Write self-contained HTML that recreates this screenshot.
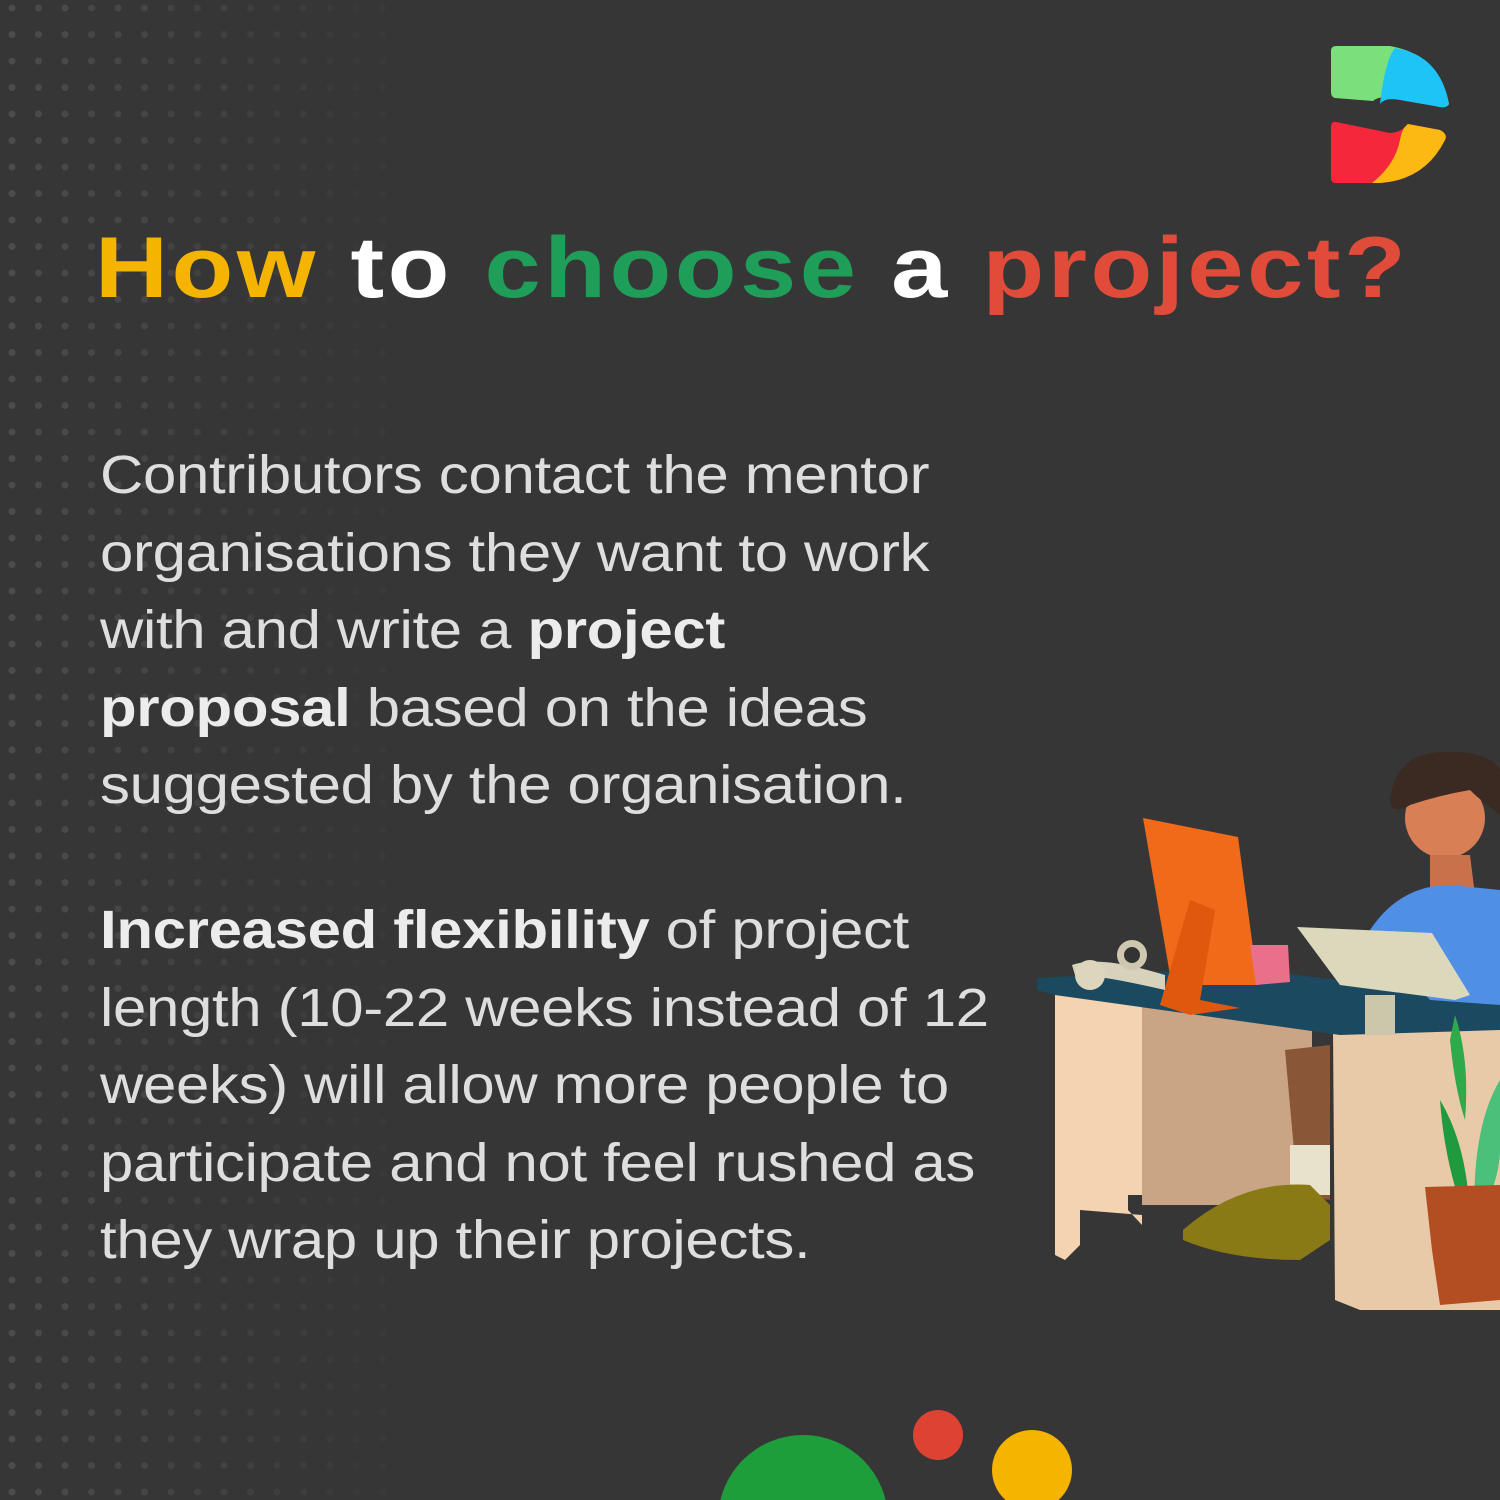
<!DOCTYPE html>
<html><head><meta charset="utf-8"><style>
html,body{margin:0;padding:0;width:1500px;height:1500px;overflow:hidden}
body{background:#363636;position:relative;font-family:"Liberation Sans",sans-serif}
#dots{position:absolute;left:0;top:0}
.title{position:absolute;left:95px;top:218px;font-size:86px;font-weight:bold;letter-spacing:3px;white-space:nowrap;transform:scaleX(1.175);transform-origin:left top;line-height:100px}
.body{position:absolute;left:100px;color:#dedede;font-size:54px;line-height:77.5px;white-space:nowrap;letter-spacing:-0.3px;transform:scaleX(1.11);transform-origin:left top}
.body b{color:#ececec}
</style></head><body>
<svg id="dots" width="1500" height="1500"></svg>
<div class="title"><span style="color:#f4b400">How</span> <span style="color:#fff">to</span> <span style="color:#1e9e58">choose</span> <span style="color:#fff">a</span> <span style="color:#e04b3a">project?</span></div>
<div class="body" style="top:437px">Contributors contact the mentor<br>organisations they want to work<br>with and write a <b>project</b><br><b>proposal</b> based on the ideas<br>suggested by the organisation.</div>
<div class="body" style="top:892px"><b>Increased flexibility</b> of project<br>length (10-22 weeks instead of 12<br>weeks) will allow more people to<br>participate and not feel rushed as<br>they wrap up their projects.</div>
<svg width="1500" height="1500" style="position:absolute;left:0;top:0">
<g>
<path d="M1336,46 L1390,46 Q1440,55 1449,104 Q1447,108 1440,107 L1394,98 Q1380,95 1373,101 L1335,98 Q1331,97 1331,92 L1331,51 Q1331,46 1336,46Z" fill="#7be07b"/>
<path d="M1395,48 Q1440,55 1449,104 Q1447,108 1440,107 L1400,100 Q1385,97 1380,104 Q1385,60 1395,48Z" fill="#1dc4f5"/>
<path d="M1336,122 L1390,133 Q1400,133 1408,124 L1440,130 Q1448,134 1445,140 Q1425,180 1380,183 L1336,183 Q1331,183 1331,178 L1331,127 Q1331,121 1336,122Z" fill="#f4283a"/>
<path d="M1408,124 L1440,130 Q1448,134 1445,140 Q1425,180 1380,183 L1372,183 Q1395,165 1400,140 Q1402,128 1408,124Z" fill="#fdb913"/>
</g>
<g>
<circle cx="803" cy="1520" r="85" fill="#1e9e3a"/>
<circle cx="938" cy="1435" r="25" fill="#de4232"/>
<circle cx="1032" cy="1470" r="40" fill="#f4b400"/>
</g>
<g>
<path d="M1055,995 L1142,1000 L1142,1195 L1128,1195 L1128,1210 L1142,1225 L1142,1215 L1080,1210 L1080,1245 L1065,1260 L1055,1255Z" fill="#f4d3b0"/>
<rect x="1142" y="1005" width="170" height="200" fill="#c9a585"/>
<path d="M1333,1030 L1500,1025 L1500,1310 L1360,1310 L1335,1300Z" fill="#e9caa8"/>
<path d="M1285,1050 L1330,1045 L1330,1200 L1298,1195Z" fill="#8a5638"/>
<rect x="1290" y="1145" width="40" height="50" fill="#e8e2cc"/>
<path d="M1183,1230 Q1240,1180 1310,1185 L1330,1205 L1330,1240 L1300,1260 Q1230,1260 1183,1240Z" fill="#8a7a16"/>
<path d="M1037,978 L1240,968 L1500,1000 L1500,1030 L1340,1035 L1055,995 L1037,990Z" fill="#1b4a60"/>
<path d="M1143,818 L1238,837 L1258,985 L1185,985 L1170,975Z" fill="#f06a1a"/>
<path d="M1160,1005 L1190,900 L1215,910 L1200,1000 L1240,1008 L1190,1015Z" fill="#e0580e"/>
<path d="M1072,965 Q1100,955 1165,975 L1165,990 Q1100,975 1075,975Z" fill="#d8d2bc"/>
<circle cx="1090" cy="975" r="15" fill="#ddd5bc"/>
<circle cx="1132" cy="955" r="15" fill="#cfc8b0"/><circle cx="1132" cy="955" r="8" fill="#333"/>
<path d="M1250,945 L1288,945 L1290,982 L1256,985Z" fill="#e8708a"/>
<circle cx="1445" cy="818" r="40" fill="#d97f56"/>
<path d="M1390,800 Q1395,755 1440,752 Q1490,750 1500,770 L1500,815 Q1480,800 1470,790 Q1440,795 1410,805 Q1400,812 1392,808Z" fill="#3a2a22"/>
<path d="M1430,855 L1470,855 L1475,895 L1430,895Z" fill="#c9714a"/>
<path d="M1370,930 Q1400,885 1450,885 L1500,890 L1500,1005 L1430,1000 L1395,960Z" fill="#4f8fe6"/>
<path d="M1297,927 L1432,933 L1470,995 L1455,1000 L1340,985Z" fill="#dcd8bc"/>
<rect x="1365" y="995" width="30" height="40" fill="#ccc6aa"/>
<path d="M1455,1015 Q1470,1060 1465,1120 Q1455,1090 1450,1040Z" fill="#2eaa4a"/>
<path d="M1440,1100 Q1470,1150 1470,1230 Q1445,1170 1440,1100Z" fill="#1f9a3e"/>
<path d="M1500,1080 Q1470,1130 1475,1230 Q1500,1180 1500,1150Z" fill="#4ac07a"/>
<path d="M1425,1187 L1500,1185 L1500,1300 L1440,1305 L1432,1250Z" fill="#b24e22"/>
</g>
</svg>
<script>
var svg=document.getElementById('dots');
for(var y=8;y<1500;y+=26.5){for(var x=12;x<1500;x+=26.5){
var a=Math.max(0,0.4-x/1100);if(a<=0.02)continue;
var c=document.createElementNS('http://www.w3.org/2000/svg','circle');
c.setAttribute('cx',x);c.setAttribute('cy',y);c.setAttribute('r',3.5);
c.setAttribute('fill','rgba(110,110,110,'+a+')');


svg.appendChild(c);}}
</script>
</body></html>
